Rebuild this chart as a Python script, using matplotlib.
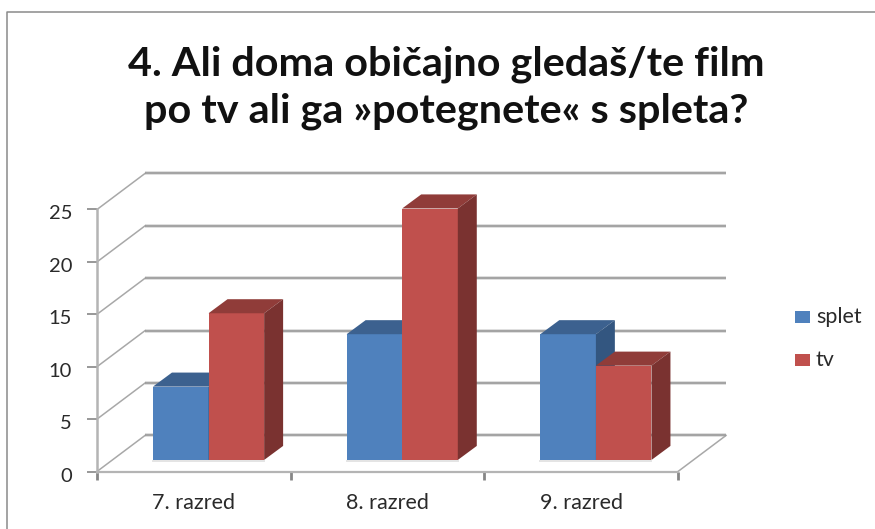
import matplotlib
matplotlib.use('Agg')
import matplotlib.pyplot as plt
from matplotlib.patches import Polygon
from matplotlib.transforms import ScaledTranslation

plt.rcParams['font.family'] = ['Lato', 'DejaVu Sans']

categories = ['7. razred', '8. razred', '9. razred']
splet = [7, 12, 12]
tv = [14, 24, 9]
y_ticks = [0, 5, 10, 15, 20, 25]
title = '4. Ali doma običajno gledaš/te film\npo tv ali ga »potegnete« s spleta?'

W, H = 875, 529
BLUE, BLUE_TOP, BLUE_SIDE = '#4f81bd', '#3c618f', '#335680'
RED, RED_TOP, RED_SIDE = '#c0504d', '#903c39', '#7a3230'
GRID = '#9a9a9a'

fig = plt.figure(figsize=(W / 100, H / 100), dpi=100)
# axes box = front edge of the 3d floor, x in categories, y in values
ax = fig.add_axes([97 / W, 1 - 471.5 / H, 581 / W, 262 / H])
ax.set_xlim(0, 3)
ax.set_ylim(0, 25)
ax.patch.set_visible(False)
for s in ax.spines.values():
    s.set_visible(False)

# depth of the chart in data units
back_dx, back_dy = 0.248, 3.44
bar_dx, bar_dy = 0.098, 1.34
floor = 1.1
bar_w = 0.287
bar_x0 = 0.289

# back wall gridlines and the slanted ones on the left wall
for t in y_ticks:
    ax.plot([back_dx, 3 + back_dx], [t + back_dy] * 2, color='#d8d8d8', lw=2.6,
            clip_on=False, zorder=1, solid_capstyle='butt')
    ax.plot([back_dx, 3 + back_dx], [t + back_dy] * 2, color=GRID, lw=1.2,
            clip_on=False, zorder=1.1, solid_capstyle='butt')
    ax.plot([0, back_dx], [t, t + back_dy], color='#a8a8a8', lw=1.1, clip_on=False, zorder=1)
# right edge of the floor
ax.plot([3, 3 + back_dx], [0, back_dy], color='#a8a8a8', lw=1.1, clip_on=False, zorder=1)

# front axis lines
ax.plot([0, 3], [0, 0], color='#b4b4b4', lw=1.6, clip_on=False, zorder=2)
ax.plot([0, 0], [0, 25], color='#b4b4b4', lw=1.8, clip_on=False, zorder=2)
ax.set_xticks([0, 1, 2, 3])
ax.set_xticklabels([])
ax.set_yticks(y_ticks)
ax.tick_params(axis='x', length=6, width=2, color='#868686')
ax.tick_params(axis='y', length=7, width=1.2, color='#868686', labelsize=14.5,
               labelcolor='#2a2a2a', pad=11)
# labels sit a bit below their ticks in the original
for lab in ax.get_yticklabels():
    lab.set_transform(lab.get_transform() + ScaledTranslation(0, -3 / 100, fig.dpi_scale_trans))
for i, c in enumerate(categories):
    ax.text(i + 0.5, -3.05, c, ha='center', va='center', fontsize=15.5, color='#2a2a2a')


def draw_bar(x, v, front, top, side, z):
    ax.bar(x, v, bar_w, bottom=floor, align='edge', color=front, linewidth=0, zorder=z)
    h = floor + v
    ax.add_patch(Polygon([(x, h), (x + bar_w, h), (x + bar_w + bar_dx, h + bar_dy),
                          (x + bar_dx, h + bar_dy)], color=top, lw=0, zorder=z, clip_on=False))
    ax.add_patch(Polygon([(x + bar_w, floor), (x + bar_w + bar_dx, floor + bar_dy),
                          (x + bar_w + bar_dx, h + bar_dy), (x + bar_w, h)],
                         color=side, lw=0, zorder=z, clip_on=False))


for i in range(len(categories)):
    x = i + bar_x0
    draw_bar(x, splet[i], BLUE, BLUE_TOP, BLUE_SIDE, 3 + i)
    draw_bar(x + bar_w, tv[i], RED, RED_TOP, RED_SIDE, 3.5 + i)
    # faint shadow under the pair
    ax.plot([x, x + 2 * bar_w], [floor - 0.12] * 2, color='#e4e4e4', lw=1.4, zorder=2.5)

# legend
for y, col, name in [(317, BLUE, 'splet'), (360, RED, 'tv')]:
    fig.patches.append(plt.Rectangle((795 / W, 1 - (y + 6) / H), 15 / W, 12 / H, color=col,
                                     lw=0, transform=fig.transFigure))
    fig.text(816 / W, 1 - y / H, name, fontsize=15.5, color='#2a2a2a', va='center')

fig.text(446 / W, 1 - 88 / H, title, ha='center', va='center', fontsize=29.8, fontweight='bold',
         color='#111111', linespacing=1.33)

# chart frame, only top and left show
fig.add_artist(plt.Line2D([7 / W, 7 / W, 1], [0, 1 - 11.5 / H, 1 - 11.5 / H], color='#8a8a8a', lw=1.1))

fig.savefig('out.png', dpi=100)
